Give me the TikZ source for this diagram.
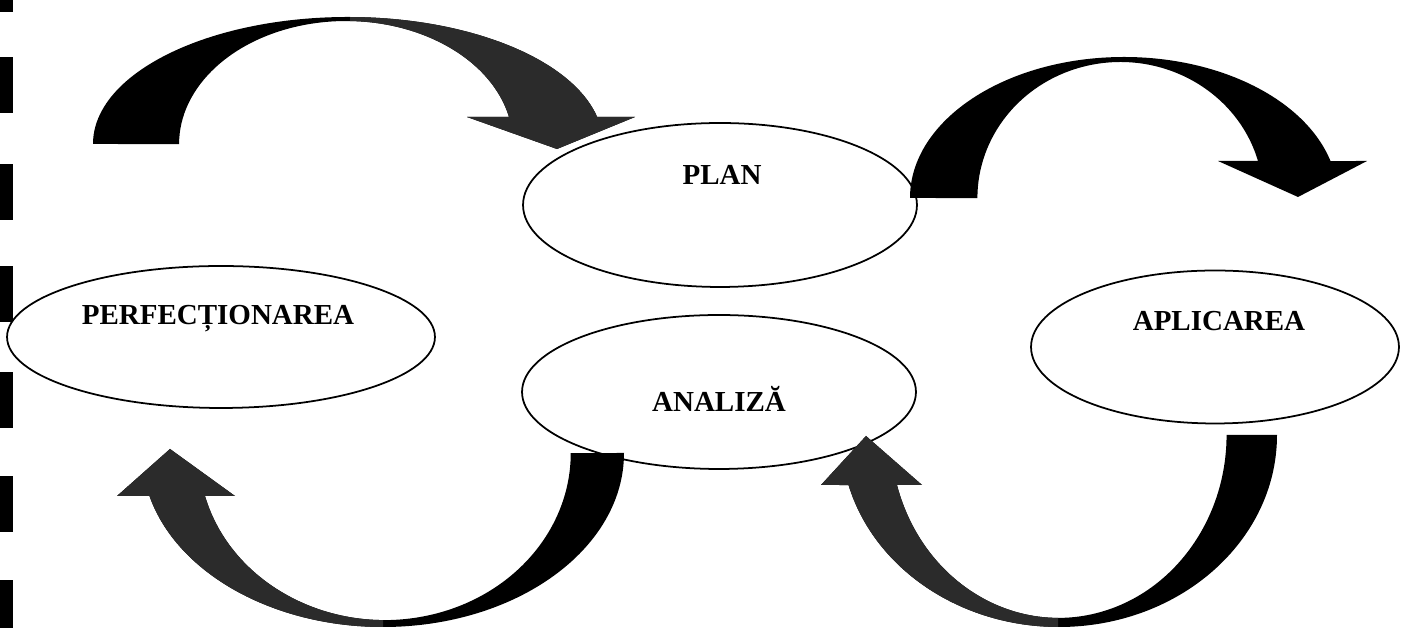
\documentclass[tikz,border=0pt]{standalone}
\usepackage{fontspec}
\setmainfont{Liberation Serif}
\usepackage{tikz}
\usetikzlibrary{shapes.geometric}

\definecolor{headgray}{HTML}{2B2B2B}

% Curved block arrows (outer arc, head, inner arc)
\newcommand{\arrowplan}{(93,484) arc[start angle=180, end angle=12.3, x radius=255, y radius=127]
    -- (635,511) -- (557,479) -- (467,511) -- (509,511)
    arc[start angle=12.7, end angle=180, x radius=167, y radius=123] -- cycle}
\newcommand{\arrowaplicare}{(910,430) arc[start angle=180, end angle=15.2, x radius=214, y radius=141]
    -- (1367,467) -- (1298,431) -- (1218,467) -- (1258,467)
    arc[start angle=15.8, end angle=180, x radius=143, y radius=136] -- cycle}
\newcommand{\arrowperfectionare}{(624,175) arc[start angle=0, end angle=-165.7, x radius=241, y radius=174]
    -- (117,132) -- (170,179) -- (235,132) -- (205,132)
    arc[start angle=-165.1, end angle=0, x radius=186, y radius=167] -- cycle}
\newcommand{\arrowanaliza}{(1277,193) arc[start angle=0, end angle=-164.9, x radius=218, y radius=192]
    -- (821,143) -- (866,192) -- (922,143) -- (897,143)
    arc[start angle=-164.1, end angle=0, x radius=168, y radius=183] -- cycle}

\begin{document}
\begin{tikzpicture}[
    x=0.02cm, y=0.02cm,
    phase/.style={ellipse, draw, line width=1pt, inner sep=0pt, fill=white},
    phaselabel/.style={font=\fontsize{16.5}{20}\selectfont\bfseries, anchor=base, inner sep=0pt},
    shaft/.style={fill=black},
    shafthead/.style={fill=headgray},
]
\useasboundingbox (0,0) rectangle (1401,628);

% Binding marks on the left edge
\foreach \y in {-8,96,200,306,408,515,616}
    \fill (0,\y) rectangle (13,\y+56);

% Ellipses
\node[phase, minimum width=7.88cm, minimum height=3.28cm] (plan) at (720,423) {};
\node[phase, minimum width=8.56cm, minimum height=2.84cm] (perfectionare) at (221,291) {};
\node[phase, minimum width=7.88cm, minimum height=3.08cm] (analiza) at (719,236) {};
\node[phase, minimum width=7.36cm, minimum height=3.06cm] (aplicare) at (1215,281) {};

% Labels
\node[phaselabel] (plantext) at (722,443) {PLAN};
\node[phaselabel] (perfectionaretext) at (218,303) {PERFECȚIONAREA};
\node[phaselabel] (analizatext) at (719,216) {ANALIZĂ};
\node[phaselabel] (aplicaretext) at (1219,297) {APLICAREA};

% Curved arrows
\fill[shaft] \arrowplan;
\begin{scope}
    \clip (350,400) rectangle (700,628);
    \fill[shafthead] \arrowplan;
\end{scope}

\fill[shaft] \arrowaplicare;

\fill[shaft] \arrowperfectionare;
\begin{scope}
    \clip (100,0) rectangle (383,200);
    \fill[shafthead] \arrowperfectionare;
\end{scope}

\fill[shaft] \arrowanaliza;
\begin{scope}
    \clip (800,0) rectangle (1058,200);
    \fill[shafthead] \arrowanaliza;
\end{scope}

\end{tikzpicture}
\end{document}
